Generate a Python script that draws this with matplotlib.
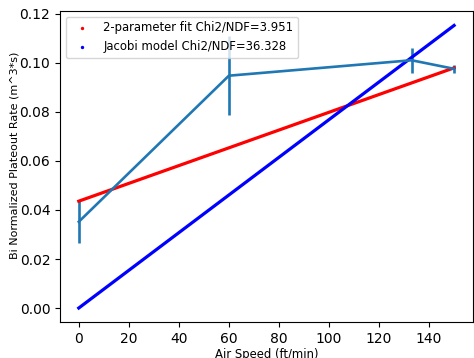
import matplotlib
matplotlib.use('Agg')
import matplotlib.pyplot as plt

# measured plateout rates
air_speed = [0, 60, 133, 150]
rate = [0.0352, 0.0948, 0.1011, 0.0976]
rate_err = [0.0088, 0.0162, 0.0050, 0.0016]

# model curves (endpoints)
fit_x = [0, 150]
fit2_y = [0.0436, 0.0980]
jacobi_y = [0.0, 0.1153]

fig = plt.figure(figsize=(4.74, 3.58), dpi=100)
ax = fig.add_axes([0.1266, 0.1006, 0.871, 0.8687])

ax.errorbar(air_speed, rate, yerr=rate_err, lw=1.9, elinewidth=1.9)
ax.plot(fit_x, fit2_y, color='red', lw=2.3)
ax.plot(fit_x, jacobi_y, color='blue', lw=2.3)

# legend entries drawn as small dots like a scatter
ax.scatter([], [], s=2, c='red', label='2-parameter fit Chi2/NDF=3.951')
ax.scatter([], [], s=2, c='blue', label='Jacobi model Chi2/NDF=36.328')
ax.legend(loc='upper left', fontsize=8.4)

ax.set_xlim(-7.5, 157.5)
ax.set_ylim(-0.0057, 0.1212)
ax.set_xlabel('Air Speed (ft/min)', fontsize=8.4, labelpad=2)
ax.set_ylabel('Bi Normalized Plateout Rate (m^3*s)', fontsize=8.0)
ax.yaxis.set_label_coords(-0.097, 0.535)

fig.savefig('out.png', dpi=100)
